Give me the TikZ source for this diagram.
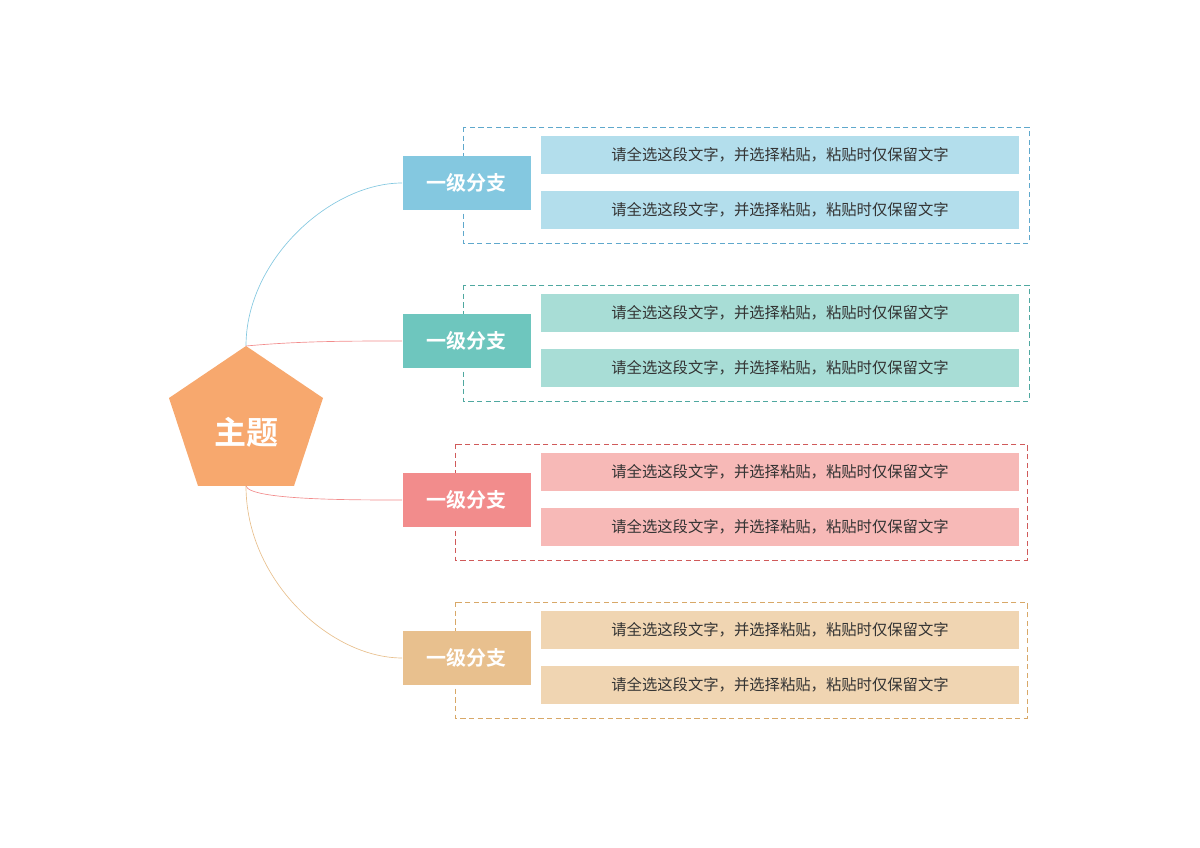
\documentclass[tikz,border=0pt]{standalone}
\usepackage{fontspec}
\setmainfont{Noto Sans CJK SC}
\newfontfamily\cjkb{Noto Sans CJK SC Bold}
\begin{document}
\begin{tikzpicture}[x=0.75pt,y=-0.75pt,
  br/.style={minimum width=96pt,minimum height=40pt,inner sep=0pt,text=white,font=\cjkb\fontsize{15}{15}\selectfont},
  lf/.style={minimum width=358pt,minimum height=28.5pt,inner sep=0pt,text=black!80,font=\fontsize{11.5}{12}\selectfont},
  grp/.style={draw,dashed,dash pattern=on 4pt off 2.5pt,line width=0.6pt}]
\useasboundingbox (0,0) rectangle (1200,848);
\definecolor{cB}{HTML}{84C8E0}\definecolor{cT}{HTML}{6EC6BE}\definecolor{cR}{HTML}{F28C8C}\definecolor{cY}{HTML}{E8C08E}
\definecolor{lB}{HTML}{B3DEEC}\definecolor{lT}{HTML}{A8DDD6}\definecolor{lR}{HTML}{F7B9B7}\definecolor{lY}{HTML}{F0D5B2}
\definecolor{dB}{HTML}{5FA8CC}\definecolor{dT}{HTML}{4FA8A0}\definecolor{dR}{HTML}{D05A5A}\definecolor{dY}{HTML}{D8A868}
\fill[color={rgb,255:red,247;green,168;blue,110}] (246,346) -- (323,398) -- (294,486) -- (198,486) -- (169,398) -- cycle;
\node[text=white,font=\cjkb\fontsize{24}{24}\selectfont] (root) at (246,432) {主题};
\coordinate (top) at (246,346);
\coordinate (bot) at (246,486);
\foreach \i/\c/\l/\d/\y/\gx/\gw in {1/B/B/B/183/463/1029,2/T/T/T/341/463/1029,3/R/R/R/500/455/1027,4/Y/Y/Y/658/455/1027}{
  \draw[grp,draw=d\d] (\gx,\y-56) rectangle (\gw,\y+60);
  \node[br,fill=c\c] (b\i) at (466.5,\y) {一级分支};
  \node[lf,fill=l\l] (l\i a) at (780,\y-28) {请全选这段文字，并选择粘贴，粘贴时仅保留文字};
  \node[lf,fill=l\l] (l\i b) at (780,\y+27) {请全选这段文字，并选择粘贴，粘贴时仅保留文字};
}
\draw[cB,line width=0.5pt] (top) .. controls (246,260) and (330,183) .. (b1.west);
\draw[cR,line width=0.5pt] (top) .. controls (300,341) and (350,341) .. (b2.west);
\draw[cR,line width=0.5pt] (bot) .. controls (250,500) and (350,500) .. (b3.west);
\draw[cY,line width=0.5pt] (bot) .. controls (246,580) and (330,658) .. (b4.west);
\end{tikzpicture}
\end{document}
